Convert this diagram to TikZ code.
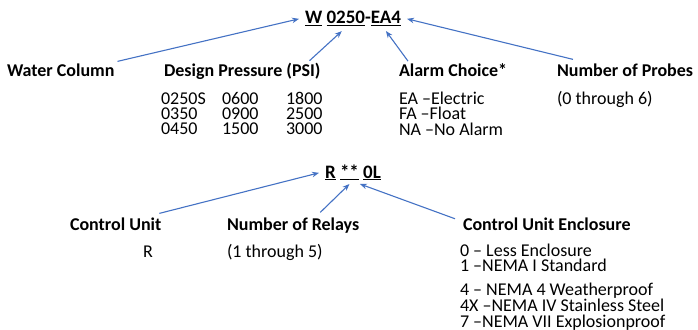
\documentclass[tikz,border=0pt]{standalone}
\usepackage{fontspec}
\setmainfont{Carlito}
\usetikzlibrary{arrows.meta,positioning}
\definecolor{arrowblue}{HTML}{4472C4}
\begin{document}
\begin{tikzpicture}[x=1pt, y=-1pt,
    every node/.style={inner sep=0pt, outer sep=0pt},
    lbl/.style={anchor=base west, font=\fontsize{18}{15}\selectfont\bfseries},
    txt/.style={anchor=base west, font=\fontsize{18}{11.5}\selectfont},
    code/.style={font=\fontsize{19}{15}\selectfont\bfseries},
    arr/.style={draw=arrowblue, line width=1.1pt, -{Stealth[length=7pt,width=5.5pt]}}]
    \useasboundingbox (0,0) rectangle (698,329);

    % top model code
    \node (tW) [code, anchor=base west] at (305,24) {\underline{W}};
    \node (tP) [code, base right=4.3pt of tW] {\underline{0250}};
    \node (tD) [code, base right=0pt of tP] {-};
    \node (tE) [code, base right=0pt of tD] {\underline{EA4}};

    \node (WC) [lbl] at (7,77) {Water Column};
    \node (DP) [lbl] at (164,77) {Design Pressure (PSI)};
    \node (AC) [lbl] at (399,77) {Alarm Choice*};
    \node (NP) [lbl] at (557,77) {Number of Probes};

    \node (DPlist) [txt] at (161,104) {\begin{tabular}[t]{@{}p{49pt}p{52pt}l@{}}
        0250S & 0600 & 1800\\
        0350 & 0900 & 2500\\
        0450 & 1500 & 3000
      \end{tabular}};
    \node (AClist) [txt] at (399,104) {\begin{tabular}[t]{@{}l@{}}
        EA –Electric\\ FA –Float\\ NA –No Alarm
      \end{tabular}};
    \node (NPlist) [txt] at (557,104) {(0 through 6)};

    \draw ([xshift=3pt,yshift=3pt]WC.north east) edge[arr] ([xshift=-6pt]tW.west);
    \draw ([xshift=-11pt,yshift=3pt]DP.north east) edge[arr] ([xshift=-4pt,yshift=-5pt]tP.south);
    \draw ([xshift=9pt,yshift=3pt]AC.north west) edge[arr] ([yshift=-5pt]tE.south);
    \draw ([xshift=16pt,yshift=5pt]NP.north west) edge[arr] ([xshift=6pt]tE.east);

    % bottom model code
    \node (tR) [code, anchor=base west] at (325,178) {\underline{R}};
    \node (tS) [code, base right=4.3pt of tR] {\underline{**}};
    \node (tO) [code, base right=4.3pt of tS] {\underline{0L}};

    \node (CU) [lbl] at (70,230) {Control Unit};
    \node (NR) [lbl] at (227,230) {Number of Relays};
    \node (CE) [lbl] at (463,230) {Control Unit Enclosure};

    \node (CUlist) [txt, anchor=base] at (148,257) {R};
    \node (NRlist) [txt] at (227,257) {(1 through 5)};
    \node (CElist) [txt, font=\fontsize{18}{10.5}\selectfont] at (460,256) {\begin{tabular}[t]{@{}l@{}}
        0 – Less Enclosure\\ 1 –NEMA I Standard\\[8.5pt]
        4 – NEMA 4 Weatherproof\\ 4X –NEMA IV Stainless Steel\\
        7 –NEMA VII Explosionproof
      \end{tabular}};

    \draw ([xshift=-2pt,yshift=4pt]CU.north east) edge[arr] ([xshift=-6pt]tR.west);
    \draw ([xshift=-39pt,yshift=5pt]NR.north east) edge[arr] ([yshift=-4pt]tS.south);
    \draw ([xshift=-8pt,yshift=5pt]CE.west) edge[arr] ([xshift=1pt,yshift=-4pt]tS.south east);
\end{tikzpicture}
\end{document}
